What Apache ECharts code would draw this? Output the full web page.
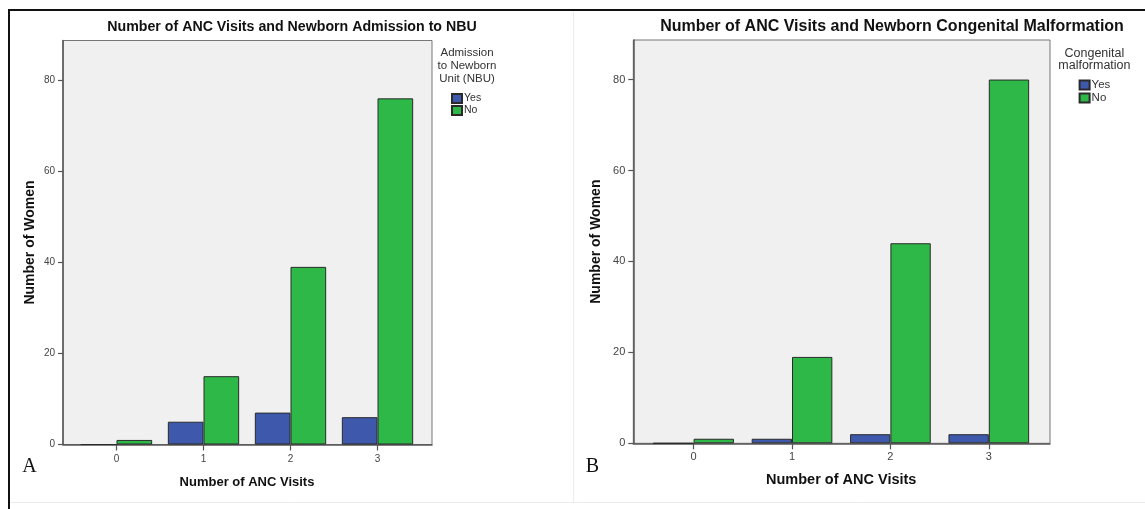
<!DOCTYPE html>
<html>
<head>
<meta charset="utf-8">
<script src="https://cdn.jsdelivr.net/npm/echarts@6/dist/echarts.min.js"></script>
<style>
  html, body { margin: 0; padding: 0; background: #fff; }
  #chart { width: 1145px; height: 509px; }
</style>
</head>
<body>
<div id="chart"></div>
<script>
// data
const categories = ['0', '1', '2', '3']
const nbuYes = [0, 5, 7, 6]
const nbuNo = [1, 15, 39, 76]
const malfYes = [0, 1, 2, 2]
const malfNo = [1, 19, 44, 80]
const yTicks = [0, 20, 40, 60, 80]
const yMax = 88.7

const FONT = '"Liberation Sans", Arial, sans-serif'
const BLUE = '#3e58ac'
const GREEN = '#2eb848'
const AXIS = '#555'

const chart = echarts.init(document.getElementById('chart'))

// frame grid (grey box + y axis) and an inset data grid for each panel
const frameX = (gridIndex) => ({
  gridIndex, type: 'value', min: 0, max: 1,
  axisLine: { show: true, lineStyle: { color: AXIS, width: 1.5 } },
  axisTick: { show: false }, axisLabel: { show: false }, splitLine: { show: false }
})

const dataX = (gridIndex, fontSize, labelMargin, nameSize, nameGap) => ({
  gridIndex, type: 'category', data: categories,
  axisLine: { show: false },
  axisTick: { show: true, alignWithLabel: true, length: 6, lineStyle: { color: AXIS, width: 1.2 } },
  axisLabel: { margin: labelMargin, color: '#444', fontSize, fontFamily: FONT },
  name: 'Number of ANC Visits', nameLocation: 'middle', nameGap,
  nameTextStyle: { fontWeight: 'bold', fontSize: nameSize, color: '#111', fontFamily: FONT }
})

const frameY = (gridIndex, fontSize, nameGap) => ({
  gridIndex, type: 'value', min: 0, max: yMax,
  axisLine: { show: true, lineStyle: { color: AXIS, width: 1.5 } },
  axisTick: { show: true, length: 5, customValues: yTicks, lineStyle: { color: AXIS, width: 1.2 } },
  axisLabel: { customValues: yTicks, margin: 8, color: '#444', fontSize, fontFamily: FONT },
  splitLine: { show: false },
  name: 'Number of Women', nameLocation: 'middle', nameGap,
  nameTextStyle: { fontWeight: 'bold', fontSize: 14, color: '#111', fontFamily: FONT }
})

const dataY = (gridIndex) => ({ gridIndex, type: 'value', min: 0, max: yMax, show: false })

const bar = (name, data, color, axisIndex) => ({
  name, type: 'bar', data,
  xAxisIndex: axisIndex, yAxisIndex: axisIndex,
  barGap: '0%', barCategoryGap: '18%',
  itemStyle: { color, borderColor: '#2a2a2a', borderWidth: 1 },
  emphasis: { disabled: true }
})

const text = (str, x, y, font, extra) => ({
  type: 'text', x, y, silent: true,
  style: Object.assign({ text: str, font, fill: '#111', textAlign: 'center', textVerticalAlign: 'middle' }, extra || {})
})

const line = (x1, y1, x2, y2, stroke, lineWidth) => ({
  type: 'line', silent: true, shape: { x1, y1, x2, y2 }, style: { stroke, lineWidth }
})

const option = {
  animation: false,
  grid: [
    { left: 63, top: 40.5, width: 369, height: 404, show: true, backgroundColor: '#f0f0f0', borderColor: '#777', borderWidth: 1 },
    { left: 73, top: 40.5, width: 348, height: 404 },
    { left: 633.3, top: 40, width: 416.7, height: 403.3, show: true, backgroundColor: '#f0f0f0', borderColor: '#777', borderWidth: 1 },
    { left: 644.4, top: 40, width: 393.6, height: 403.3 }
  ],
  xAxis: [
    frameX(0),
    dataX(1, 10, 10, 13, 31),
    frameX(2),
    dataX(3, 11, 8, 14.5, 29)
  ],
  yAxis: [
    frameY(0, 10, 26),
    dataY(1),
    frameY(2, 11, 30),
    dataY(3)
  ],
  legend: [
    {
      data: ['Yes', 'No'], orient: 'vertical', left: 451, top: 93, padding: 0,
      itemWidth: 10, itemHeight: 9, itemGap: 1, icon: 'rect', selectedMode: false,
      textStyle: { fontSize: 10.5, color: '#333', fontFamily: FONT, padding: [0, 0, 0, -3] }
    },
    {
      data: ['Yes', 'No'], orient: 'vertical', left: 1078.6, top: 79, padding: 0,
      itemWidth: 10, itemHeight: 9, itemGap: 1, icon: 'rect', selectedMode: false,
      textStyle: { fontSize: 11.5, color: '#333', fontFamily: FONT, padding: [0, 0, 0, -3] }
    }
  ],
  series: [
    bar('Yes', nbuYes, BLUE, 1),
    bar('No', nbuNo, GREEN, 1),
    bar('Yes', malfYes, BLUE, 3),
    bar('No', malfNo, GREEN, 3)
  ],
  graphic: [
    // page borders
    line(8, 10, 1145, 10, '#111', 2),
    line(9, 9, 9, 509, '#111', 2),
    line(573.5, 12, 573.5, 502, '#ececec', 1),
    line(10, 502.5, 1145, 502.5, '#ececec', 1),
    // titles
    text('Number of ANC Visits and Newborn Admission to NBU', 292, 27, 'bold 14.2px ' + FONT),
    text('Number of ANC Visits and Newborn Congenital Malformation', 892, 27, 'bold 16px ' + FONT),
    // legend titles
    text('Admission\nto Newborn\nUnit (NBU)', 467, 66, '11.5px ' + FONT, { fill: '#333', lineHeight: 13 }),
    text('Congenital\nmalformation', 1094.4, 59.6, '12.5px ' + FONT, { fill: '#333', lineHeight: 12.7 }),
    // panel letters
    text('A', 29.5, 467, '20px "Liberation Serif", "Times New Roman", serif'),
    text('B', 592.5, 467, '20px "Liberation Serif", "Times New Roman", serif')
  ]
}

chart.setOption(option)
</script>
</body>
</html>
